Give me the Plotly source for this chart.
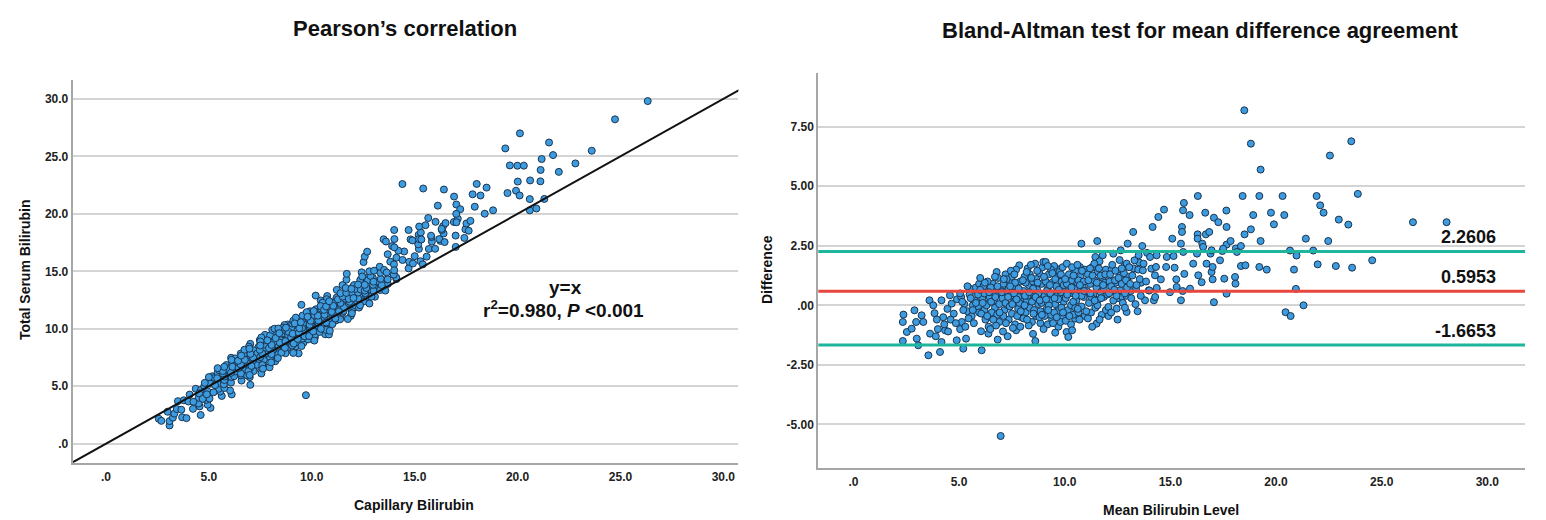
import plotly.graph_objects as go

# ---- Data (mean of methods, serum - capillary) ----
mean_low = [2.37, 2.34, 2.34, 2.53, 2.76, 2.89, 3.00, 3.07, 2.97, 3.23, 3.31, 3.55, 3.60, 3.78, 3.63, 3.90, 3.84,
            4.10, 4.17, 4.00, 4.17, 4.34, 4.48, 4.25, 4.57, 4.65, 4.89, 4.45, 4.75, 4.90, 3.95, 4.30, 4.60,
            5.05, 5.20, 5.33, 5.13, 5.52, 5.10, 5.25, 5.40, 5.60, 5.75, 5.90, 5.50, 5.85, 5.30, 5.70, 5.95,
            5.15, 5.45, 5.65, 5.80, 5.05, 5.95]
diff_low = [-0.39, -0.70, -1.50, -1.12, -0.98, -0.21, -1.40, -1.68, -0.70, -0.42, -0.70, -2.10, 0.21, 0.00, -1.19, -1.30, -0.33,
            -1.96, -1.54, -1.00, 0.21, -1.05, -1.10, -0.50, 0.42, 0.07, -1.47, -0.15, -0.35, 0.25, -0.60, -0.80, -0.60,
            -1.00, -1.82, -1.40, -0.70, 0.70, 0.35, 0.05, -0.25, -0.45, 0.20, -0.05, 0.45, 0.55, -0.90, -0.75, -0.30,
            0.15, -0.55, 0.00, 0.75, 0.50, 0.90]

mean_mid = [6.04, 6.07, 6.39, 6.83, 6.78, 6.10, 6.20, 6.30, 6.40, 6.50, 6.60, 6.70, 6.80, 6.90, 6.15, 6.25, 6.35, 6.45,
            6.55, 6.65, 6.75, 6.85, 6.95, 6.05, 6.30, 6.60, 6.90, 6.20, 6.50, 6.80, 6.40, 6.70, 6.97,
            7.30, 7.70, 7.85, 7.05, 7.10, 7.15, 7.20, 7.25, 7.30, 7.35, 7.40, 7.45, 7.50, 7.55, 7.60, 7.65, 7.70,
            7.75, 7.80, 7.90, 7.95, 7.10, 7.20, 7.35, 7.50, 7.65, 7.80, 7.95, 7.40, 7.60, 7.75, 7.25, 7.55, 7.85, 7.45,
            8.61, 8.05, 8.10, 8.15, 8.20, 8.25, 8.30, 8.35, 8.40, 8.45, 8.50, 8.55, 8.60, 8.65, 8.70, 8.75, 8.80,
            8.85, 8.90, 8.95, 8.05, 8.15, 8.25, 8.35, 8.45, 8.55, 8.65, 8.75, 8.85, 8.95, 8.10, 8.30, 8.50, 8.70,
            8.90, 8.40, 8.20, 8.80]
diff_mid = [-1.09, -1.89, -1.19, -1.44, 1.40, 0.30, -0.20, 0.60, 0.10, -0.50, 0.90, -0.10, 0.45, -0.70, 0.80, -0.60, 1.00, 0.35,
            -0.30, 0.20, -0.85, 1.15, 0.65, -0.35, 0.00, 0.55, 0.05, 0.50, 0.75, -0.40, -0.90, 1.20, -5.49,
            -1.30, -1.05, 1.68, 0.30, 0.90, -0.20, 1.30, 0.60, 0.00, -0.60, 1.05, 0.40, -0.35, 0.80, 0.15, -0.80, 1.50,
            0.55, -0.15, 1.00, 0.30, -0.45, 0.10, 0.70, 1.20, 0.95, 0.35, -0.50, -0.05, 0.50, -0.45, 1.10, -0.95, 0.10, 1.45,
            -1.50, 0.60, 1.20, -0.30, 0.20, 1.55, 0.85, -0.10, 0.45, -0.70, 1.00, 0.25, 1.75, -0.45, 0.65, 0.05, 1.35,
            -0.25, 0.90, 0.35, -0.55, 0.95, 0.40, 1.30, 0.15, -0.20, 1.10, 0.50, -0.75, 1.60, 0.00, -0.85, 0.70, 1.45,
            0.10, 1.70, 1.40, -0.50]

mean_core = [8.99, 9.10, 9.60, 9.40, 9.20, 9.70, 9.90, 9.05, 9.10, 9.15, 9.20, 9.25, 9.30, 9.35, 9.40, 9.45, 9.50,
             9.55, 9.60, 9.65, 9.70, 9.75, 9.80, 9.85, 9.90, 9.95, 9.05, 9.15, 9.25, 9.35, 9.45, 9.55, 9.65, 9.75,
             9.85, 9.95, 9.30, 9.50, 9.70, 9.90, 9.20, 9.80,
             10.10, 10.09, 10.17, 10.49, 10.72, 10.79, 10.05, 10.10, 10.15, 10.20, 10.25, 10.30, 10.35, 10.40, 10.45,
             10.50, 10.55, 10.60, 10.65, 10.70, 10.75, 10.80, 10.85, 10.90, 10.95, 10.05, 10.20, 10.35, 10.50, 10.65,
             10.80, 10.95, 10.30, 10.60, 10.90, 10.40, 10.70,
             11.45, 11.54, 11.80, 11.51, 11.05, 11.10, 11.15, 11.20, 11.25, 11.30, 11.35, 11.40, 11.45, 11.50, 11.55,
             11.60, 11.65, 11.70, 11.75, 11.80, 11.85, 11.90, 11.95, 11.10, 11.25, 11.40, 11.55, 11.70, 11.85, 11.20,
             11.65, 11.95]
diff_core = [1.82, 1.82, 1.54, -0.60, -0.80, -0.90, -0.50, 0.40, 1.00, -0.15, 0.70, 1.30, 0.20, -0.40, 0.95, 0.50, 1.65,
             0.05, 0.80, -0.25, 1.20, 0.35, -0.70, 1.00, 0.60, 0.15, -0.45, 0.60, 0.00, 1.50, -0.75, 1.10, 0.40, 1.40,
             -0.10, 0.85, 0.85, -0.30, 0.25, 1.60, 1.65, 0.55,
             1.75, -1.12, -1.33, -0.56, 1.61, 2.59, 0.30, 0.90, -0.20, 1.30, 0.50, 0.00, 1.05, -0.40, 0.70,
             1.45, 0.20, 0.95, -0.30, 0.55, 1.20, -0.05, 0.80, 0.35, 1.50, -0.65, 0.60, 1.60, -0.10, 1.05,
             0.40, -0.45, -0.80, 1.70, 1.00, 0.15, -0.60,
             2.03, 2.70, 2.10, -0.77, 0.60, 1.30, 0.10, 0.90, -0.30, 1.60, 0.45, 1.05, -0.10, 0.75, 1.40,
             0.25, 1.85, 0.55, -0.40, 1.15, 0.35, 0.95, -0.20, -0.55, 0.35, 1.75, 0.00, 1.25, 0.70, 1.55,
             -0.60, 1.50]

mean_fill = [5.55, 5.65, 5.80, 5.90, 6.00, 6.12, 6.22, 6.33, 6.42, 6.52, 6.62, 6.72, 6.82, 6.92, 7.02, 7.12, 7.22,
             7.32, 7.42, 7.52, 7.62, 7.72, 7.82, 7.92, 8.02, 8.12, 8.22, 8.32, 8.42, 8.52, 8.62, 8.72, 8.82, 8.92,
             9.02, 9.12, 9.22, 9.32, 9.42, 9.52, 9.62, 9.72, 9.82, 9.92, 10.02, 10.12, 10.22, 10.32, 10.42, 10.52,
             10.62, 10.72, 10.82, 10.92, 11.02, 11.12, 11.22, 11.32, 11.42, 11.52, 11.62, 11.72, 11.82, 11.92,
             12.02, 12.12, 12.22, 12.32, 12.42, 12.52, 12.62, 12.72, 12.82, 12.92, 13.02, 13.12, 13.25, 13.38,
             13.52, 13.62, 6.48, 7.08, 7.90, 8.50, 9.00, 9.55, 10.35, 11.30, 5.40, 6.00, 5.20, 4.85]
diff_fill = [0.30, -0.20, 0.10, 0.45, 0.65, 0.10, 0.95, -0.45, 0.55, 0.15, -0.60, 0.35, 0.80, -0.30, 0.55, 1.10, -0.75,
             0.35, 0.80, 0.05, 1.30, 0.25, 0.70, -0.25, 1.05, 0.40, -0.60, 0.55, 1.15, -0.35, 0.35, 0.95, 0.20, -0.40,
             1.20, 0.25, -0.20, 0.50, 1.35, 0.30, -0.50, 0.65, 1.30, -0.30, 1.10, 0.45, -0.45, 0.75, 1.25, 0.40,
             -0.15, 0.85, 1.45, 0.60, -0.25, 1.05, 0.50, 1.25, 0.20, 0.95, 1.55, 0.30, 0.85, 1.30,
             0.45, 1.00, 1.50, 0.60, 0.95, 0.30, 1.25, 0.35, 1.65, 0.40, 1.20, 0.60, 1.55, 0.70,
             1.80, 0.95, -1.00, -1.10, -0.90, -1.20, -1.00, -1.15, -1.05, -0.90, 0.80, 1.15, -0.20, -0.75]

mean_upper = [12.30, 12.65, 12.98, 12.93, 12.38, 12.62, 12.07, 12.46, 12.93, 12.50, 12.07, 12.10, 12.15, 12.20, 12.25,
              12.30, 12.40, 12.45, 12.55, 12.60, 12.70, 12.75, 12.80, 12.85, 12.90, 12.95, 12.20, 12.35, 12.70, 12.85,
              13.24, 13.67, 13.30, 13.48, 13.70, 13.80, 13.98, 13.73, 13.10, 13.15, 13.20, 13.35, 13.40, 13.55, 13.60,
              13.85, 13.90, 13.05, 13.45, 14.00, 13.50,
              14.10, 14.16, 14.35, 14.43, 14.70, 14.22, 14.28, 14.98, 14.35, 14.04, 14.35, 14.83, 15.15, 14.32, 14.80,
              15.20, 14.55, 14.27, 15.28, 15.66, 16.32, 16.48, 16.08, 16.71, 16.95, 17.00, 17.35, 17.00, 17.55, 18.06,
              18.08, 16.90, 16.95, 16.26, 15.61, 17.46, 15.30, 15.58, 15.93, 15.50, 17.06, 17.66, 15.09, 15.50, 15.55,
              15.55, 16.29, 16.29, 16.68, 16.84, 16.51, 16.55, 17.66, 17.85, 17.50, 18.10, 18.34, 18.15, 19.27, 21.41,
              22.47, 20.66, 20.97, 21.76, 21.97, 22.83, 18.34, 18.55, 19.21, 19.56, 20.85, 20.94, 21.30, 20.45, 20.69,
              15.64, 15.60, 15.91, 16.65, 17.06, 17.27, 17.65, 17.66, 18.92, 19.76, 20.39, 19.90, 18.81, 18.51, 16.30,
              18.42, 19.21, 20.31, 21.92, 22.09, 22.25, 22.97, 23.42, 18.50, 18.81, 19.27, 22.55, 23.56, 23.87, 26.48,
              28.07, 23.60, 24.55]
diff_upper = [2.17, 2.31, 2.59, 1.75, 1.05, 0.63, -0.07, -0.14, -0.28, -0.60, -0.45, 0.50, 1.30, 0.80, 1.70,
              0.20, 1.45, 0.40, 1.15, 1.90, 0.90, 0.10, 1.35, 0.50, 1.05, 0.75, -0.30, 0.65, 1.55, -0.10,
              3.08, 2.49, 1.89, 1.50, 1.47, 0.21, 0.63, 1.75, 0.90, 0.30, 1.25, 0.05, 0.85, 1.10, 0.40,
              1.00, 2.20, 1.60, -0.25, 0.62, 2.10,
              1.54, 3.29, 0.70, 3.71, 4.02, 0.21, 0.35, 0.55, 0.73, 2.03, 2.10, 2.03, 2.07, 1.61, 1.61,
              1.58, 1.09, 1.26, 1.09, 1.32, 1.26, 0.97, 1.75, 1.75, 1.40, 1.61, 1.89, 1.09, 1.12, 1.19,
              0.91, 2.17, 2.31, 2.17, 2.24, 2.28, 0.77, 0.60, 0.70, 0.21, 0.13, 0.49, 2.80, 2.59, 3.29,
              3.08, 2.98, 2.80, 2.98, 3.08, 2.59, 2.45, 2.55, 2.70, 2.38, 2.39, 2.49, 2.24, 2.70, 2.80,
              2.70, 2.30, 2.09, 2.30, 1.72, 1.65, 1.65, 1.68, 1.61, 1.50, 1.50, 0.69, 0.00, -0.29, -0.45,
              4.30, 3.99, 3.79, 3.89, 3.68, 3.49, 3.98, 3.29, 3.79, 3.89, 3.79, 3.40, 3.19, 2.98, 4.59,
              4.59, 4.59, 4.59, 4.59, 4.20, 3.89, 3.60, 3.39, 8.19, 6.79, 5.70, 6.29, 6.89, 4.68, 3.49,
              3.49, 1.58, 1.89]

mean_level = mean_low + mean_mid + mean_core + mean_fill + mean_upper
difference = diff_low + diff_mid + diff_core + diff_fill + diff_upper

# Capillary / serum pairs recovered from mean and difference
capillary = [m - d / 2 for m, d in zip(mean_level, difference)]
serum = [m + d / 2 for m, d in zip(mean_level, difference)]

# Bland-Altman reference lines
ba_mean = 0.5953
ba_upper = 2.2606
ba_lower = -1.6653

left_ticks = [0, 5, 10, 15, 20, 25, 30]
left_ticktext = [".0", "5.0", "10.0", "15.0", "20.0", "25.0", "30.0"]
right_yticks = [-5, -2.5, 0, 2.5, 5, 7.5]
right_yticktext = ["-5.00", "-2.50", ".00", "2.50", "5.00", "7.50"]

FONT = "Liberation Sans, Arial, sans-serif"
MARKER = dict(size=7, color="#3d9be0", line=dict(color="#1a3550", width=1))
GRID = "#d4d4d4"
AXLINE = "#a6a6a6"
TICKFONT = dict(family=FONT, size=12, color="#222222", weight="bold")
W, H = 1546, 520

fig = go.Figure()

fig.add_trace(go.Scatter(x=capillary, y=serum, mode="markers", marker=MARKER,
                         xaxis="x", yaxis="y", showlegend=False))
fig.add_trace(go.Scatter(x=[-5, 35], y=[-5, 35], mode="lines",
                         line=dict(color="#111111", width=2),
                         xaxis="x", yaxis="y", showlegend=False))

fig.add_trace(go.Scatter(x=mean_level, y=difference, mode="markers", marker=MARKER,
                         xaxis="x2", yaxis="y2", showlegend=False))
for val, col in [(ba_upper, "#1db59b"), (ba_mean, "#e8473f"), (ba_lower, "#1db59b")]:
    fig.add_trace(go.Scatter(x=[-5, 40], y=[val, val], mode="lines",
                             line=dict(color=col, width=3),
                             xaxis="x2", yaxis="y2", showlegend=False))

common_x = dict(showgrid=False, zeroline=False, showline=True, linecolor=AXLINE, linewidth=2,
                ticks="", tickfont=TICKFONT, ticklabelstandoff=2)
common_y = dict(showgrid=True, gridcolor=GRID, gridwidth=1.5, zeroline=False, showline=True,
                linecolor=AXLINE, linewidth=2, ticks="", tickfont=TICKFONT)

fig.update_layout(
    width=W, height=H,
    margin=dict(l=0, r=0, t=0, b=0),
    paper_bgcolor="white", plot_bgcolor="white",
    font=dict(family=FONT, color="#111111"),
    xaxis=dict(domain=[0.0470, 0.4776], range=[-1.62, 30.73], tickvals=left_ticks,
               ticktext=left_ticktext, anchor="y", **common_x),
    yaxis=dict(domain=[0.1102, 0.8462], range=[-1.65, 31.65], tickvals=left_ticks,
               ticktext=left_ticktext, anchor="x", **common_y),
    xaxis2=dict(domain=[0.5293, 0.9864], range=[-1.66, 31.78], tickvals=left_ticks,
                ticktext=left_ticktext, anchor="y2", **common_x),
    yaxis2=dict(domain=[0.1006, 0.8602], range=[-6.82, 9.77], tickvals=right_yticks,
                ticktext=right_yticktext, anchor="x2", **common_y),
)


def paper_text(text, px, py, size, angle=0):
    return dict(text=text, x=px / W, y=1 - py / H, xref="paper", yref="paper", showarrow=False,
                textangle=angle, font=dict(size=size, family=FONT, color="#111111"),
                xanchor="center", yanchor="middle")


annotations = [
    paper_text("<b>Pearson’s correlation</b>", 405, 28, 22),
    paper_text("<b>Bland-Altman test for mean difference agreement</b>", 1200, 30, 22),
    paper_text("<b>Capillary Bilirubin</b>", 414, 505, 14),
    paper_text("<b>Total Serum Bilirubin</b>", 25, 270, 14, -90),
    paper_text("<b>Mean Bilirubin Level</b>", 1171, 510, 14),
    paper_text("<b>Difference</b>", 767, 270, 14, -90),
    paper_text("<b>y=x</b>", 565, 287, 19),
    paper_text("<b>r<sup>2</sup>=0.980, <i>P</i> &lt;0.001</b>", 563, 309, 19),
]
for val, txt in [(ba_upper, "2.2606"), (ba_mean, "0.5953"), (ba_lower, "-1.6653")]:
    annotations.append(dict(text=f"<b>{txt}</b>", x=30.5, y=val, xref="x2", yref="y2", showarrow=False,
                            xanchor="right", yanchor="bottom", yshift=2,
                            font=dict(size=18, family=FONT, color="#111111")))
fig.update_layout(annotations=annotations)

fig.write_html("out.html", config={"displayModeBar": False},
               post_script="document.body.style.margin='0';document.body.style.padding='0';")
